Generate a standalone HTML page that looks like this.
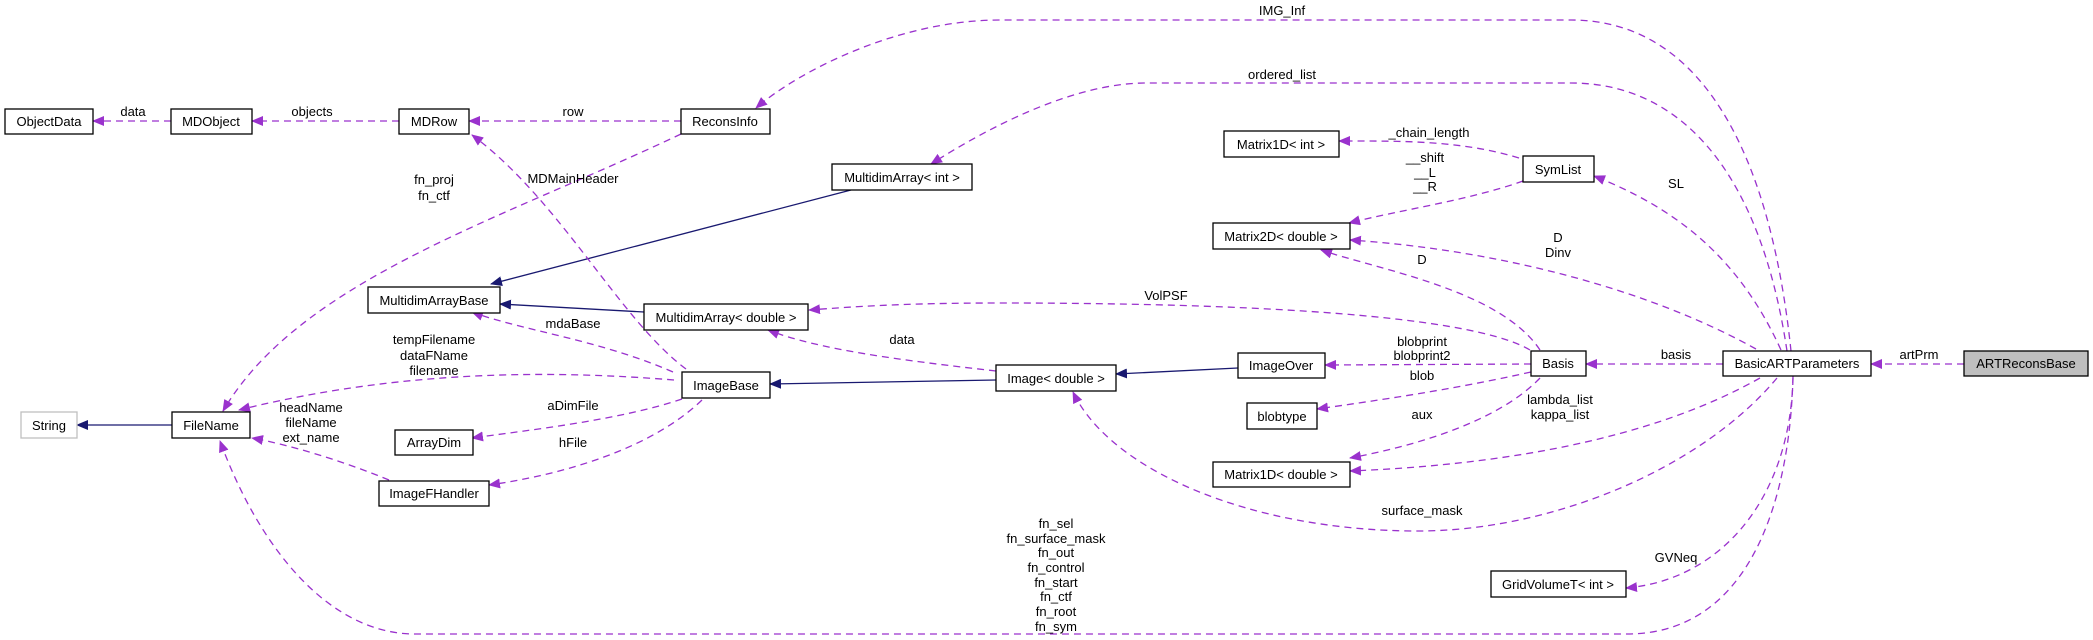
<!DOCTYPE html>
<html><head><meta charset="utf-8"><style>
html,body{margin:0;padding:0;background:#fff;}
svg{display:block;}
text{font-family:"Liberation Sans",sans-serif;font-size:13px;fill:#000;}
.n{fill:#fff;stroke:#000;stroke-width:1.3;}
.p{fill:none;stroke:#9a32cd;stroke-width:1.3;stroke-dasharray:7,5;marker-end:url(#ap);}
.s{fill:none;stroke:#191970;stroke-width:1.3;marker-end:url(#as);}
</style></head><body>
<svg width="2093" height="640" viewBox="0 0 2093 640" xmlns="http://www.w3.org/2000/svg">
<defs>
<marker id="ap" markerWidth="12" markerHeight="10" refX="11" refY="5" orient="auto" markerUnits="userSpaceOnUse"><path d="M0,0 L12,5 L0,10 z" fill="#9a32cd"/></marker>
<marker id="as" markerWidth="12" markerHeight="10" refX="11" refY="5" orient="auto" markerUnits="userSpaceOnUse"><path d="M0,0 L12,5 L0,10 z" fill="#191970"/></marker>
</defs>

<!-- edges -->
<path class="p" d="M171,121 L93,121"/>
<path class="p" d="M399,121 L252,121"/>
<path class="p" d="M681,121 L469,121"/>
<path class="p" d="M1791,351 C1770,150 1700,20 1571,20 L1000,20 C900,20 800,70 756,108"/>
<path class="p" d="M1787,351 C1760,170 1680,83 1571,83 L1146,83 C1080,83 1000,120 931,164"/>
<path class="s" d="M851,190 L491,284"/>
<path class="s" d="M644,312 L500,304"/>
<path class="p" d="M673,372 C600,340 520,330 472,312"/>
<path class="p" d="M686,369 C620,320 560,200 472,135"/>
<path class="p" d="M681,134 C500,220 300,280 223,411"/>
<path class="p" d="M674,380 C550,370 400,370 239,410"/>
<path class="p" d="M682,399 C620,420 530,430 472,438"/>
<path class="p" d="M702,400 C650,450 560,475 489,485"/>
<path class="p" d="M389,480 C340,460 290,445 252,438"/>
<path class="s" d="M172,425 L77,425"/>
<path class="p" d="M1793,376 C1790,500 1750,634 1627,634 L415,634 C330,634 260,550 220,441"/>
<path class="s" d="M996,380 L770,384"/>
<path class="p" d="M996,371 C900,360 820,350 768,330"/>
<path class="p" d="M1530,350 C1480,320 1300,303 1000,303 C900,303 850,307 809,310"/>
<path class="s" d="M1238,368 L1116,374"/>
<path class="p" d="M1531,364 L1325,365"/>
<path class="p" d="M1531,372 C1450,390 1380,400 1317,409"/>
<path class="p" d="M1540,378 C1500,420 1420,445 1350,458"/>
<path class="p" d="M1540,350 C1500,290 1380,270 1321,250"/>
<path class="p" d="M1523,181 C1470,200 1400,210 1349,223"/>
<path class="p" d="M1519,158 C1460,140 1400,141 1339,141"/>
<path class="p" d="M1781,350 C1740,260 1680,210 1594,176"/>
<path class="p" d="M1756,349 C1650,290 1500,250 1350,240"/>
<path class="p" d="M1723,364 L1586,364"/>
<path class="p" d="M1964,364 L1871,364"/>
<path class="p" d="M1760,378 C1650,440 1500,465 1350,471"/>
<path class="p" d="M1777,378 C1700,470 1550,531 1418,531 C1250,531 1110,470 1073,392"/>
<path class="p" d="M1793,378 C1790,500 1720,580 1626,588"/>

<!-- nodes -->
<rect class="n" x="5" y="109" width="88" height="25"/><text x="49" y="126" text-anchor="middle">ObjectData</text>
<rect class="n" x="171" y="109" width="81" height="25"/><text x="211" y="126" text-anchor="middle">MDObject</text>
<rect class="n" x="399" y="109" width="70" height="25"/><text x="434" y="126" text-anchor="middle">MDRow</text>
<rect class="n" x="681" y="109" width="89" height="25"/><text x="725" y="126" text-anchor="middle">ReconsInfo</text>
<rect class="n" x="832" y="164" width="140" height="26"/><text x="902" y="182" text-anchor="middle">MultidimArray&lt; int &gt;</text>
<rect class="n" x="368" y="287" width="132" height="26"/><text x="434" y="305" text-anchor="middle">MultidimArrayBase</text>
<rect class="n" x="644" y="304" width="164" height="26"/><text x="726" y="322" text-anchor="middle">MultidimArray&lt; double &gt;</text>
<rect class="n" x="682" y="372" width="88" height="26"/><text x="726" y="390" text-anchor="middle">ImageBase</text>
<rect x="21" y="412" width="56" height="26" fill="#fff" stroke="#bfbfbf" stroke-width="1.3"/><text x="49" y="430" text-anchor="middle">String</text>
<rect class="n" x="172" y="412" width="78" height="26"/><text x="211" y="430" text-anchor="middle">FileName</text>
<rect class="n" x="395" y="430" width="78" height="25"/><text x="434" y="447" text-anchor="middle">ArrayDim</text>
<rect class="n" x="379" y="481" width="110" height="25"/><text x="434" y="498" text-anchor="middle">ImageFHandler</text>
<rect class="n" x="996" y="365" width="120" height="26"/><text x="1056" y="383" text-anchor="middle">Image&lt; double &gt;</text>
<rect class="n" x="1224" y="131" width="115" height="26"/><text x="1281" y="149" text-anchor="middle">Matrix1D&lt; int &gt;</text>
<rect class="n" x="1523" y="156" width="71" height="26"/><text x="1558" y="174" text-anchor="middle">SymList</text>
<rect class="n" x="1213" y="223" width="137" height="26"/><text x="1281" y="241" text-anchor="middle">Matrix2D&lt; double &gt;</text>
<rect class="n" x="1238" y="353" width="87" height="25"/><text x="1281" y="370" text-anchor="middle">ImageOver</text>
<rect class="n" x="1531" y="351" width="55" height="25"/><text x="1558" y="368" text-anchor="middle">Basis</text>
<rect class="n" x="1723" y="351" width="148" height="25"/><text x="1797" y="368" text-anchor="middle">BasicARTParameters</text>
<rect x="1964" y="351" width="124" height="25" fill="#bfbfbf" stroke="#000" stroke-width="1.3"/><text x="2026" y="368" text-anchor="middle">ARTReconsBase</text>
<rect class="n" x="1247" y="403" width="70" height="26"/><text x="1282" y="421" text-anchor="middle">blobtype</text>
<rect class="n" x="1213" y="462" width="137" height="25"/><text x="1281" y="479" text-anchor="middle">Matrix1D&lt; double &gt;</text>
<rect class="n" x="1491" y="571" width="135" height="26"/><text x="1558" y="589" text-anchor="middle">GridVolumeT&lt; int &gt;</text>

<!-- labels -->
<g text-anchor="middle">
<text x="133" y="116">data</text>
<text x="312" y="116">objects</text>
<text x="573" y="116">row</text>
<text x="1282" y="15">IMG_Inf</text>
<text x="1282" y="79">ordered_list</text>
<text x="434" y="184">fn_proj</text><text x="434" y="200">fn_ctf</text>
<text x="573" y="183">MDMainHeader</text>
<text x="573" y="328">mdaBase</text>
<text x="434" y="344">tempFilename</text><text x="434" y="360">dataFName</text><text x="434" y="375">filename</text>
<text x="902" y="344">data</text>
<text x="311" y="412">headName</text><text x="311" y="427">fileName</text><text x="311" y="442">ext_name</text>
<text x="573" y="410">aDimFile</text>
<text x="573" y="447">hFile</text>
<text x="1429" y="137">_chain_length</text>
<text x="1425" y="162">__shift</text><text x="1425" y="177">__L</text><text x="1425" y="191">__R</text>
<text x="1676" y="188">SL</text>
<text x="1558" y="242">D</text><text x="1558" y="257">Dinv</text>
<text x="1422" y="264">D</text>
<text x="1166" y="300">VolPSF</text>
<text x="1422" y="346">blobprint</text><text x="1422" y="360">blobprint2</text>
<text x="1422" y="380">blob</text>
<text x="1676" y="359">basis</text>
<text x="1919" y="359">artPrm</text>
<text x="1422" y="419">aux</text>
<text x="1560" y="404">lambda_list</text><text x="1560" y="419">kappa_list</text>
<text x="1422" y="515">surface_mask</text>
<text x="1676" y="562">GVNeq</text>
<text x="1056" y="528">fn_sel</text>
<text x="1056" y="543">fn_surface_mask</text>
<text x="1056" y="557">fn_out</text>
<text x="1056" y="572">fn_control</text>
<text x="1056" y="587">fn_start</text>
<text x="1056" y="601">fn_ctf</text>
<text x="1056" y="616">fn_root</text>
<text x="1056" y="631">fn_sym</text>
</g>
</svg>
</body></html>
